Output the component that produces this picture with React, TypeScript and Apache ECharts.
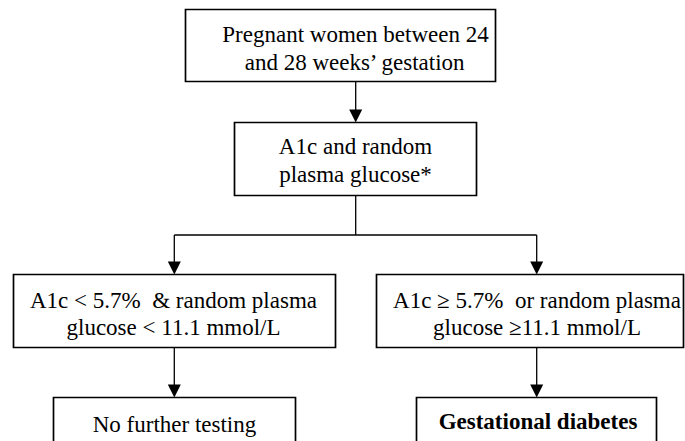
import React, { useEffect, useRef } from "react";
import * as echarts from "echarts";

// Flowchart content
const boxTexts: string[][] = [
  ["Pregnant women between 24", "and 28 weeks’ gestation"],
  ["A1c and random", "plasma glucose*"],
  ["A1c < 5.7%  & random plasma", "glucose < 11.1 mmol/L"],
  ["A1c ≥ 5.7%  or random plasma", "glucose ≥11.1 mmol/L"],
  ["No further testing"],
  ["Gestational diabetes"],
];
const boxBold: boolean[] = [false, false, false, false, false, true];

// Layout (positions only)
const boxRects = [
  { x: 185.5, y: 9.5, w: 310, h: 72 },
  { x: 234.5, y: 122.5, w: 242, h: 73 },
  { x: 13.5, y: 274.5, w: 322, h: 73 },
  { x: 376.5, y: 274.5, w: 307, h: 73 },
  { x: 53.5, y: 397.5, w: 242, h: 80 },
  { x: 416.5, y: 397.5, w: 240, h: 80 },
];
const textCx = [355.5, 355.5, 173.5, 537, 174.5, 538];
const baselines: number[][] = [[41.7, 70], [154, 181.7], [308, 335], [308, 335], [431.5], [428.5]];

const FS = 23;

export default function App() {
  const ref = useRef<HTMLDivElement>(null);
  useEffect(() => {
    if (!ref.current) return;
    const chart = echarts.init(ref.current, undefined, { renderer: "svg" });
    const canvas = document.createElement("canvas");
    const ctx = canvas.getContext("2d");
    const measure = (t: string, bold: boolean) => {
      if (!ctx) return t.length * FS * 0.45;
      ctx.font = `${bold ? "bold " : ""}${FS}px "Liberation Serif"`;
      return ctx.measureText(t).width;
    };
    const els: any[] = [];
    boxRects.forEach((b) => {
      els.push({
        type: "rect",
        shape: { x: b.x, y: b.y, width: b.w, height: b.h },
        style: { fill: "#fff", stroke: "#000", lineWidth: 1.7 },
      });
    });
    boxTexts.forEach((lines, i) => {
      lines.forEach((t, j) => {
        const style: any = { text: t, fontFamily: "Liberation Serif", fontSize: FS, fill: "#000" };
        if (boxBold[i]) style.fontWeight = "bold";
        els.push({
          type: "text",
          x: textCx[i] - measure(t, boxBold[i]) / 2,
          y: baselines[i][j] - 19,
          style,
        });
      });
    });
    const lineStyle = { stroke: "#000", lineWidth: 1.3 };
    const conn = (x1: number, y1: number, x2: number, y2: number) =>
      els.push({ type: "line", shape: { x1, y1, x2, y2 }, style: lineStyle });
    const arrow = (x: number, yTop: number, yTip: number) => {
      conn(x, yTop, x, yTip - 10);
      els.push({
        type: "polygon",
        shape: { points: [[x - 6.5, yTip - 13], [x + 6.5, yTip - 13], [x, yTip]] },
        style: { fill: "#000" },
      });
    };
    const cA = 355.7, cL = 174.3, cR = 536.7, yH = 235;
    arrow(cA, 81.5, 122.5);
    conn(cA, 195.5, cA, yH);
    conn(cL, yH, cR, yH);
    arrow(cL, yH, 274.5);
    arrow(cR, yH, 274.5);
    arrow(cL, 347.5, 397.5);
    arrow(cR, 347.5, 397.5);

    chart.setOption({
      animation: false,
      graphic: { elements: els },
    });
    return () => chart.dispose();
  }, []);
  return <div ref={ref} style={{ position: "absolute", left: 0, top: 0, width: 685, height: 441 }} />;
}
